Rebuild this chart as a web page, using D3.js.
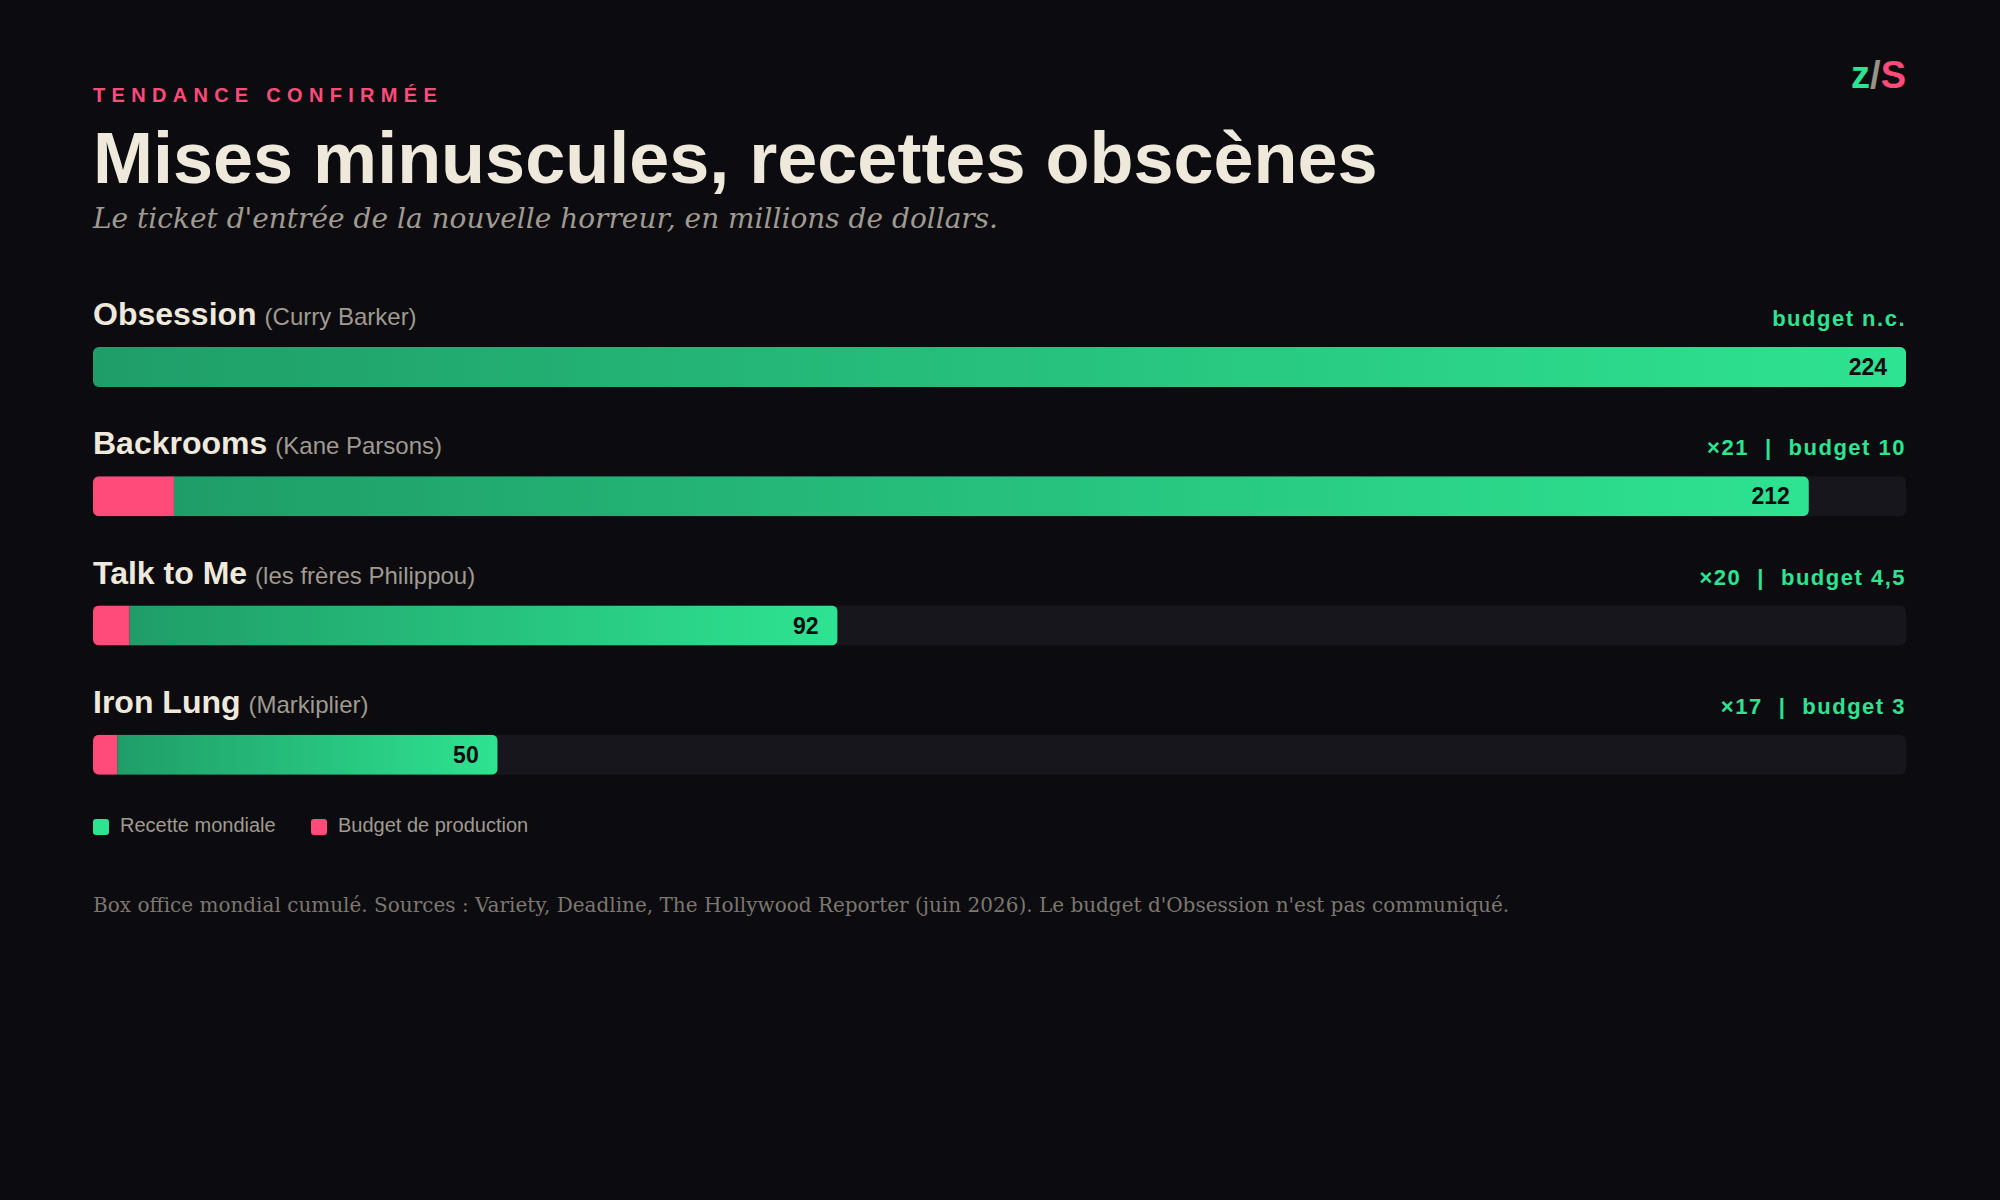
<!DOCTYPE html>
<html>
<head>
<meta charset="utf-8">
<script src="https://cdn.jsdelivr.net/npm/d3@7"></script>
<style>
  html, body { margin: 0; padding: 0; background: #0b0b10; }
  svg { display: block; }
  .sans { font-family: "Liberation Sans", Arial, sans-serif; }
  .serif { font-family: "DejaVu Serif", serif; }
</style>
</head>
<body>
<div id="chart"></div>
<script>
/**
 * DATA
 * */
const films = ["Obsession", "Backrooms", "Talk to Me", "Iron Lung"];
const directors = ["Curry Barker", "Kane Parsons", "les frères Philippou", "Markiplier"];
const revenues = [224, 212, 92, 50];
const budgets = [null, 10, 4.5, 3];

const legendLabels = ["Recette mondiale", "Budget de production"];

/**
 * CONSTANTS
 * */
const width = 2000,
  height = 1200,
  margin = { left: 93, right: 94 };

const colors = {
  bg: "#0b0b10",
  track: "#16161c",
  green: "#2ee391",
  greenDark: "#1f9d68",
  pink: "#ff4b7a",
  cream: "#efe9dc",
  grey: "#a09a8f",
  footer: "#7d776e",
};

const fr = d3.formatLocale({ decimal: ",", thousands: "\u202f", grouping: [3], currency: ["", " $"] });
const fmt = fr.format(",~r");

const rows = films.map((f, i) => ({
  name: f,
  director: directors[i],
  revenue: revenues[i],
  budget: budgets[i],
}));

const svg = d3.select("#chart")
  .append("svg")
  .attr("width", width)
  .attr("height", height);

svg.append("rect").attr("width", width).attr("height", height).attr("fill", colors.bg);

const defs = svg.append("defs");
const grad = defs.append("linearGradient")
  .attr("id", "greenGrad")
  .attr("x1", "0%").attr("x2", "100%")
  .attr("y1", "0%").attr("y2", "0%");
grad.append("stop").attr("offset", "0%").attr("stop-color", colors.greenDark);
grad.append("stop").attr("offset", "100%").attr("stop-color", colors.green);

/**
 * SCALES
 * */
const x = d3.scaleLinear()
  .domain([0, d3.max(revenues)])
  .range([margin.left, width - margin.right]);

const y = d3.scaleBand()
  .domain(films)
  .range([290, 807])
  .paddingInner(0);

const barOffset = 57,
  barH = 40,
  radius = 6;

/**
 * HEADER
 * */
svg.append("text")
  .attr("class", "sans")
  .attr("x", margin.left)
  .attr("y", 102)
  .attr("fill", colors.pink)
  .attr("font-size", 20)
  .attr("font-weight", 700)
  .attr("letter-spacing", 6.3)
  .text("TENDANCE CONFIRMÉE");

svg.append("text")
  .attr("class", "sans")
  .attr("x", margin.left)
  .attr("y", 183)
  .attr("fill", colors.cream)
  .attr("font-size", 72)
  .attr("font-weight", 700)
  .text("Mises minuscules, recettes obscènes");

svg.append("text")
  .attr("class", "serif")
  .attr("x", margin.left)
  .attr("y", 228)
  .attr("fill", colors.grey)
  .attr("font-size", 28)
  .attr("font-style", "italic")
  .text("Le ticket d'entrée de la nouvelle horreur, en millions de dollars.");

// logo
const logo = svg.append("text")
  .attr("class", "sans")
  .attr("x", width - margin.right)
  .attr("y", 88)
  .attr("text-anchor", "end")
  .attr("font-size", 38)
  .attr("font-weight", 700);
logo.append("tspan").attr("fill", colors.green).text("z");
logo.append("tspan").attr("fill", "#9a9285").text("/");
logo.append("tspan").attr("fill", colors.pink).text("S");

/**
 * ROWS
 * */
const g = svg.selectAll("g.row")
  .data(rows)
  .join("g")
  .attr("class", "row")
  .attr("transform", d => `translate(0,${y(d.name) + barOffset})`);

// name + director
const label = g.append("text")
  .attr("class", "sans")
  .attr("x", margin.left)
  .attr("y", -22);
label.append("tspan")
  .attr("fill", colors.cream)
  .attr("font-size", 32)
  .attr("font-weight", 700)
  .text(d => d.name);
label.append("tspan")
  .attr("fill", colors.grey)
  .attr("font-size", 24)
  .attr("dx", 8)
  .text(d => `(${d.director})`);

// right side: multiplier | budget
const info = g.append("text")
  .attr("class", "sans")
  .attr("x", width - margin.right)
  .attr("y", -21)
  .attr("text-anchor", "end")
  .attr("fill", colors.green)
  .attr("font-size", 22)
  .attr("font-weight", 700)
  .attr("letter-spacing", 1.5);
info.each(function (d) {
  const t = d3.select(this);
  if (d.budget == null) {
    t.append("tspan").text("budget n.c.");
  } else {
    t.append("tspan").text(`×${Math.round(d.revenue / d.budget)}`);
    t.append("tspan").attr("dx", 16).text("|");
    t.append("tspan").attr("dx", 16).text(`budget ${fmt(d.budget)}`);
  }
});

// track
g.append("rect")
  .attr("x", x(0))
  .attr("width", x.range()[1] - x(0))
  .attr("height", barH)
  .attr("rx", radius)
  .attr("fill", colors.track);

// clip each bar to its rounded shape
g.append("clipPath")
  .attr("id", (d, i) => `clip-${i}`)
  .append("rect")
  .attr("x", x(0))
  .attr("width", d => x(d.revenue) - x(0))
  .attr("height", barH)
  .attr("rx", radius);

const bars = g.append("g").attr("clip-path", (d, i) => `url(#clip-${i})`);

bars.append("rect")
  .attr("x", d => x(d.budget || 0))
  .attr("width", d => x(d.revenue) - x(d.budget || 0))
  .attr("height", barH)
  .attr("fill", "url(#greenGrad)");

bars.filter(d => d.budget != null)
  .append("rect")
  .attr("x", x(0))
  .attr("width", d => x(d.budget) - x(0))
  .attr("height", barH)
  .attr("fill", colors.pink);

// value inside bar
g.append("text")
  .attr("class", "sans")
  .attr("x", d => x(d.revenue) - 19)
  .attr("y", barH / 2 + 8)
  .attr("text-anchor", "end")
  .attr("fill", "#0b0b10")
  .attr("font-size", 23)
  .attr("font-weight", 700)
  .text(d => fmt(d.revenue));

/**
 * LEGEND
 * */
const legend = svg.append("g").attr("transform", "translate(0,819)");
const legendX = [margin.left, 311];
const legendColors = [colors.green, colors.pink];

const li = legend.selectAll("g")
  .data(legendLabels)
  .join("g")
  .attr("transform", (d, i) => `translate(${legendX[i]},0)`);
li.append("rect")
  .attr("width", 16)
  .attr("height", 16)
  .attr("rx", 3)
  .attr("fill", (d, i) => legendColors[i]);
li.append("text")
  .attr("class", "sans")
  .attr("x", 27)
  .attr("y", 13)
  .attr("fill", colors.grey)
  .attr("font-size", 20)
  .text(d => d);

/**
 * FOOTER
 * */
svg.append("text")
  .attr("class", "serif")
  .attr("x", margin.left)
  .attr("y", 912)
  .attr("fill", colors.footer)
  .attr("font-size", 20)
  .text("Box office mondial cumulé. Sources : Variety, Deadline, The Hollywood Reporter (juin 2026). Le budget d'Obsession n'est pas communiqué.");
</script>
</body>
</html>
